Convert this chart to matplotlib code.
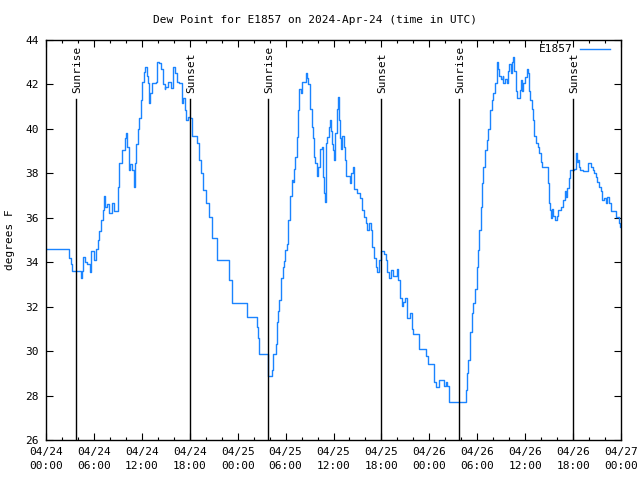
import matplotlib
matplotlib.use("Agg")
import matplotlib.pyplot as plt
from matplotlib.ticker import MultipleLocator

# hours since 2024-04-24 00:00 UTC
hours = [0.0, 2.9, 3.1, 3.26, 4.35, 4.45, 4.67, 4.88, 5.13, 5.51, 5.67, 6.01, 6.26, 6.47, 6.67, 6.92,
         7.10, 7.30, 7.43, 7.64, 7.93, 8.26, 8.48, 8.98, 9.18, 9.52, 9.86, 10.02, 10.14, 10.36, 10.56,
         10.77, 10.98, 11.11, 11.27, 11.48, 11.68, 11.90, 12.02, 12.31, 12.43, 12.61, 12.81, 12.94,
         13.06, 13.27, 13.77, 13.90, 14.19, 14.40, 14.69, 14.86, 14.90, 15.31, 15.65, 15.87, 15.94,
         16.15, 16.37, 16.69, 16.99, 17.19, 17.41, 17.53, 17.74, 18.03, 18.25, 18.95, 19.20, 19.37,
         19.70, 20.00, 20.45, 20.82, 21.45, 22.92, 23.33, 25.21, 26.38, 26.50, 26.63, 26.70, 27.84,
         28.34, 28.47, 28.76, 28.89, 29.01, 29.21, 29.39, 29.64, 29.80, 29.93, 30.14, 30.34, 30.55,
         30.77, 30.89, 31.06, 31.22, 31.39, 31.56, 31.64, 31.89, 32.06, 32.52, 32.65, 32.85, 33.06,
         33.27, 33.40, 33.52, 33.68, 33.90, 34.10, 34.31, 34.52, 34.72, 34.85, 34.97, 35.06, 35.22,
         35.40, 35.56, 35.69, 35.81, 35.98, 36.10, 36.23, 36.40, 36.53, 36.65, 36.82, 36.94, 37.10,
         37.32, 37.44, 37.60, 38.07, 38.23, 38.44, 38.57, 38.98, 39.32, 39.57, 39.82, 40.03, 40.23,
         40.45, 40.66, 40.86, 41.07, 41.32, 41.49, 41.70, 41.91, 42.33, 42.57, 42.74, 42.95, 43.20,
         43.41, 43.91, 44.11, 44.33, 44.54, 44.74, 44.95, 45.17, 45.58, 45.83, 45.99, 46.67, 47.58,
         47.80, 48.62, 48.80, 49.21, 49.88, 50.09, 50.25, 50.50, 52.59, 52.76, 52.88, 53.09, 53.31,
         53.51, 53.72, 53.93, 54.13, 54.26, 54.43, 54.56, 54.76, 54.97, 55.19, 55.39, 55.60, 55.81,
         56.01, 56.22, 56.44, 56.64, 56.76, 56.98, 57.19, 57.26, 57.48, 57.69, 57.89, 58.02, 58.19,
         58.32, 58.52, 58.64, 58.82, 59.02, 59.36, 59.44, 59.61, 59.77, 59.98, 60.19, 60.32, 60.44,
         60.61, 60.82, 60.94, 61.15, 61.36, 61.57, 61.77, 61.95, 62.15, 62.86, 62.99, 63.11, 63.24,
         63.40, 63.53, 63.74, 63.95, 64.15, 64.45, 64.78, 64.95, 65.08, 65.28, 65.49, 65.66, 66.12,
         66.37, 66.49, 66.62, 66.74, 66.91, 67.28, 67.91, 68.21, 68.46, 68.66, 68.87, 69.03, 69.25,
         69.46, 69.66, 69.87, 70.09, 70.29, 70.50, 70.71, 71.38, 71.76, 71.88, 72.0]

dewpoint = [34.6, 34.2, 33.9, 33.6, 33.3, 33.6, 34.25, 34.0, 33.9, 33.55, 34.5, 34.1, 34.6, 35.0, 35.4, 35.9,
            36.35, 37.0, 36.5, 36.6, 36.2, 36.65, 36.3, 37.4, 38.45, 39.05, 39.6, 39.8, 39.2, 38.15, 38.4,
            38.15, 37.4, 38.45, 39.3, 40.0, 40.5, 41.3, 42.1, 42.55, 42.8, 42.4, 42.05, 41.15,
            41.6, 42.05, 42.1, 43.0, 42.95, 42.7, 42.0, 41.8, 41.9, 42.1, 41.85, 42.3, 42.8,
            42.5, 42.1, 42.05, 41.15, 41.4, 40.85, 40.4, 40.55, 40.5, 39.7, 39.35, 38.6, 38.0,
            37.25, 36.65, 36.05, 35.1, 34.1, 33.2, 32.15, 31.55, 31.1, 30.6, 30.15, 29.85, 28.9,
            29.15, 29.85, 30.3, 31.3, 31.8, 32.3, 33.3, 33.8, 34.05, 34.55, 34.8, 35.9, 37.0,
            37.7, 37.6, 38.2, 38.75, 39.65, 40.85, 41.8, 41.6, 42.1, 42.5, 42.3, 42.0, 40.9,
            40.1, 39.6, 38.75, 38.45, 37.9, 38.3, 39.1, 39.2, 37.85, 37.1, 36.7, 39.35, 39.65,
            40.1, 40.4, 39.9, 39.3, 39.05, 38.6, 39.8, 40.9, 41.45, 40.4, 39.6, 39.1, 39.7,
            39.2, 38.6, 37.9, 37.55, 38.0, 38.3, 37.3, 37.1, 36.9, 36.35, 36.05, 35.75, 35.45,
            35.75, 35.45, 34.7, 34.2, 33.8, 33.55, 34.1, 34.5, 34.35, 34.1, 33.55, 33.3, 33.65,
            33.4, 33.7, 33.2, 32.4, 32.05, 32.2, 32.4, 31.5, 31.7, 31.0, 30.75, 30.1, 29.8,
            29.4, 28.6, 28.4, 28.7, 28.45, 28.6, 28.45, 27.7, 28.25, 29.0, 29.6, 30.85, 31.7,
            32.15, 32.8, 33.8, 34.55, 35.45, 36.5, 37.55, 38.3, 39.05, 39.5, 40.0, 40.85, 41.3,
            41.6, 42.05, 43.0, 42.7, 42.4, 42.25, 42.4, 42.05, 42.25, 42.05, 42.6, 42.9, 42.5,
            43.0, 43.25, 42.6, 41.7, 41.4, 41.75, 42.2, 41.7, 42.05, 42.35, 42.7, 42.5, 41.7,
            41.3, 40.9, 40.4, 39.7, 39.35, 39.2, 38.9, 38.5, 38.3, 37.55, 36.65, 36.35, 36.0,
            36.4, 36.1, 35.9, 36.1, 36.35, 36.5, 36.8, 37.2, 36.95, 37.35, 37.8, 38.15, 38.2,
            38.9, 38.5, 38.6, 38.3, 38.15, 38.1, 38.45, 38.3, 38.15, 38.0, 37.85, 37.6, 37.4,
            37.2, 36.8, 36.9, 36.65, 36.95, 36.65, 36.3, 36.05, 35.75, 35.6, 35.6]

sun_events = [3.76, 18.03, 27.8, 41.95, 51.7, 66.0]
sun_labels = ["Sunrise", "Sunset", "Sunrise", "Sunset", "Sunrise", "Sunset"]

xtick_pos = [0, 6, 12, 18, 24, 30, 36, 42, 48, 54, 60, 66, 72]
xtick_labels = ["04/24\n00:00", "04/24\n06:00", "04/24\n12:00", "04/24\n18:00",
                "04/25\n00:00", "04/25\n06:00", "04/25\n12:00", "04/25\n18:00",
                "04/26\n00:00", "04/26\n06:00", "04/26\n12:00", "04/26\n18:00",
                "04/27\n00:00"]

FONT = "DejaVu Sans Mono"
plt.rcParams['font.family'] = FONT
plt.rcParams['font.size'] = 8

fig = plt.figure(figsize=(6.4, 4.8), dpi=100)
ax = fig.add_axes([46/640, 40/480, 575/640, 400/480])

ax.plot(hours, dewpoint, color='#1a84ff', lw=1.0, drawstyle='steps-post', label='E1857')

for xe, lab in zip(sun_events, sun_labels):
    ax.axvline(xe, ymin=0, ymax=0.852, color='black', lw=1.0)
    ax.text(xe + 0.15, 0.8675, lab, rotation=90, ha='center', va='bottom',
            transform=ax.get_xaxis_transform(), fontsize=8)

ax.set_xlim(0, 72)
ax.set_ylim(26, 44)
ax.set_xticks(xtick_pos)
ax.set_xticklabels(xtick_labels, linespacing=1.45)
ax.xaxis.set_minor_locator(MultipleLocator(2))
ax.set_yticks(range(26, 45, 2))
ax.tick_params(which='both', direction='in', top=True, right=True, color='black', width=0.8)
ax.tick_params(which='major', length=5, pad=5)
ax.tick_params(axis='y', which='major', pad=5)
ax.tick_params(which='minor', length=2.5)
for s in ax.spines.values():
    s.set_linewidth(1.0)
    s.set_color('black')

leg = ax.legend(loc='upper right', bbox_to_anchor=(0.9885, 1.0), frameon=False, fontsize=8,
                handlelength=2.7, handletextpad=0.7, borderaxespad=0.0, markerfirst=False)

fig.text(315/640, 1 - 20/480, "Dew Point for E1857 on 2024-Apr-24 (time in UTC)",
         ha='center', va='center', fontsize=8)
fig.text(10/640, 0.5, "degrees F", rotation=90, ha='center', va='center', fontsize=8)

fig.savefig("out.png", dpi=100)
